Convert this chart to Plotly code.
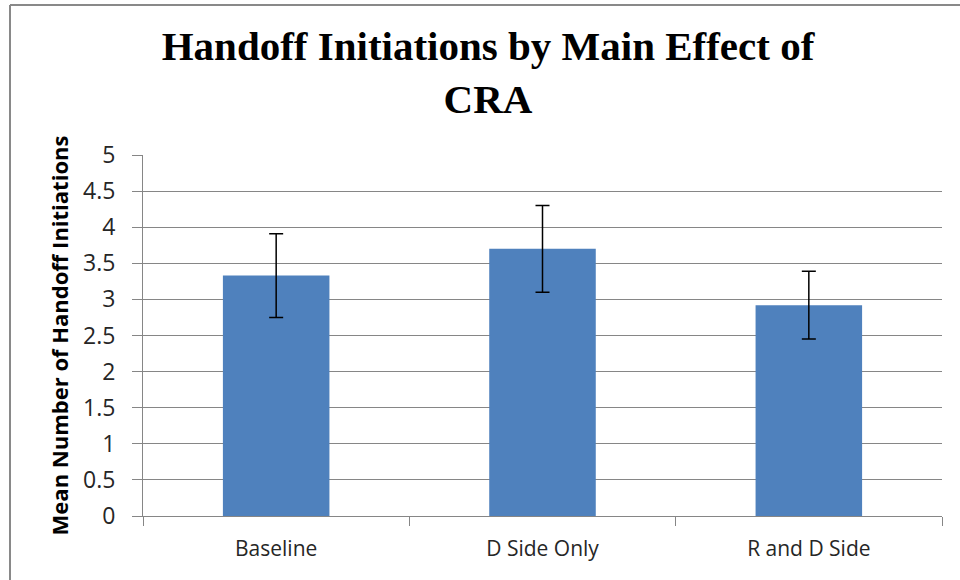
import plotly.graph_objects as go

categories = ["Baseline", "D Side Only", "R and D Side"]
means = [3.33, 3.70, 2.92]
errors = [0.58, 0.60, 0.47]
y_ticks = [0, 0.5, 1, 1.5, 2, 2.5, 3, 3.5, 4, 4.5, 5]
y_tick_labels = ["0", "0.5", "1", "1.5", "2", "2.5", "3", "3.5", "4", "4.5", "5"]

W, H = 960, 580
L, R, T, B = 143, 18, 155, 64
pw, ph = W - L - R, H - T - B

def px_x(p):
    return (p - L) / pw

def px_y(p):
    return (H - B - p) / ph

fig = go.Figure()
fig.add_trace(go.Bar(
    x=categories, y=means,
    marker=dict(color="#4F81BD", line=dict(color="#4F81BD", width=0)),
    error_y=dict(type="data", array=errors, visible=True, color="#000000",
                 thickness=1.5, width=7),
    width=0.4,
))

fig.update_layout(
    width=W, height=H,
    margin=dict(l=L, r=R, t=T, b=B),
    paper_bgcolor="white", plot_bgcolor="white",
    showlegend=False,
    title=dict(
        text="<b>Handoff Initiations by Main Effect of<br>CRA</b>",
        x=488 / W, xanchor="center", xref="container",
        y=1 - 60 / H, yanchor="middle", yref="container",
        font=dict(family="Liberation Serif", size=41, color="#000000"),
    ),
    xaxis=dict(
        showline=True, linecolor="#868686", linewidth=1,
        ticks="outside", tickson="boundaries", ticklen=9, tickcolor="#868686",
        showgrid=False, ticklabelstandoff=14,
        tickfont=dict(family="Open Sans", size=21, color="#262626"),
    ),
    yaxis=dict(
        range=[0, 5], tickvals=y_ticks, ticktext=y_tick_labels,
        showline=True, linecolor="#868686", linewidth=1,
        ticks="outside", ticklen=10, tickcolor="#868686",
        showgrid=True, gridcolor="#868686", gridwidth=1,
        zeroline=False, ticklabelstandoff=12,
        tickfont=dict(family="Open Sans", size=23, color="#262626"),
        title=dict(text="<b>Mean Number of Handoff Initiations</b>",
                   font=dict(family="Open Sans", size=22, color="#000000"),
                   standoff=8),
    ),
    shapes=[
        dict(type="line", xref="paper", yref="paper",
             x0=px_x(10), x1=px_x(10), y0=px_y(5), y1=px_y(590),
             line=dict(color="#898989", width=2)),
        dict(type="line", xref="paper", yref="paper",
             x0=px_x(10), x1=px_x(970), y0=px_y(5), y1=px_y(5),
             line=dict(color="#898989", width=2)),
    ],
)

fig.write_html("out.html", config={"displayModeBar": False},
               post_script="document.body.style.margin='0';")
